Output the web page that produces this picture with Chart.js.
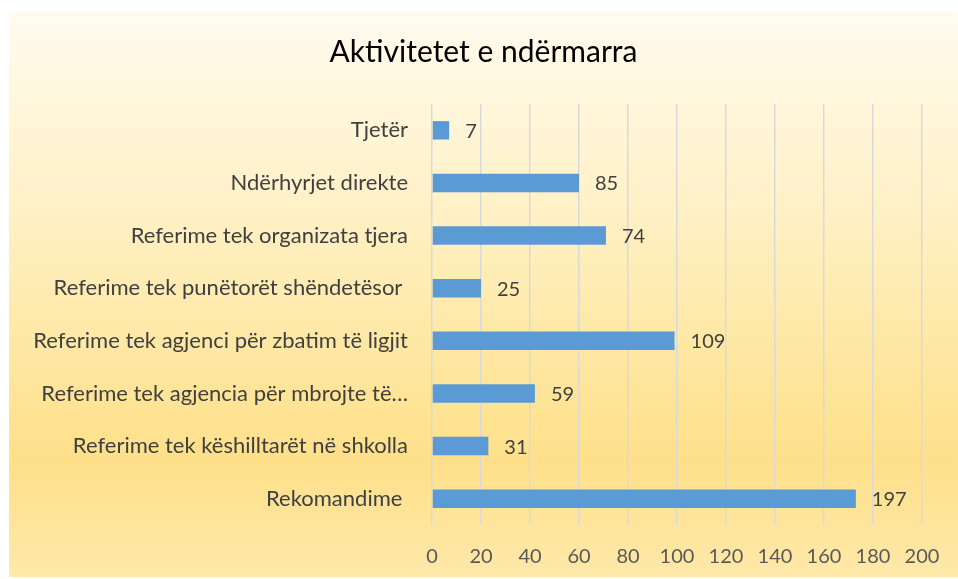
<!DOCTYPE html>
<html>
<head>
<meta charset="utf-8">
<script src="https://cdn.jsdelivr.net/npm/chart.js@4/dist/chart.umd.min.js"></script>
<style>
  html, body { margin: 0; padding: 0; background: #ffffff; }
  #wrap {
    position: absolute;
    left: 9px; top: 11px;
    width: 949px; height: 566px;
    background: linear-gradient(to bottom, #fffbef 0%, #fff1c6 35%, #fee392 72%, #fee08b 80%, #ffe9a9 100%);
  }
</style>
</head>
<body>
<div id="wrap"><canvas id="chart"></canvas></div>
<script>
  const categories = [
    'Tjetër',
    'Ndërhyrjet direkte',
    'Referime tek organizata tjera',
    'Referime tek punëtorët shëndetësor ',
    'Referime tek agjenci për zbatim të ligjit',
    'Referime tek agjencia për mbrojte të…',
    'Referime tek këshilltarët në shkolla',
    'Rekomandime '
  ];

  // bar lengths as drawn in the picture
  const barValues = [7, 60, 71, 20, 99, 42, 23, 173];

  // numbers printed next to the bars
  const labelValues = [7, 85, 74, 25, 109, 59, 31, 197];

  const tickValues = [0, 20, 40, 60, 80, 100, 120, 140, 160, 180, 200];

  const fontFamily = 'Lato, "Open Sans", sans-serif';

  const barLabels = {
    id: 'barLabels',
    afterDatasetsDraw(chart) {
      const ctx = chart.ctx;
      const meta = chart.getDatasetMeta(0);
      ctx.save();
      ctx.font = '20px ' + fontFamily;
      ctx.fillStyle = '#404040';
      ctx.textAlign = 'left';
      ctx.textBaseline = 'middle';
      meta.data.forEach((bar, i) => {
        ctx.fillText(String(labelValues[i]), bar.x + 16, bar.y + 1);
      });
      ctx.restore();
    }
  };

  const ctx = document.getElementById('chart');

  new Chart(ctx, {
    type: 'bar',
    data: {
      labels: categories,
      datasets: [{
        data: barValues,
        backgroundColor: '#5b9bd5',
        borderWidth: 0,
        categoryPercentage: 1,
        barPercentage: 0.35
      }]
    },
    plugins: [barLabels],
    options: {
      indexAxis: 'y',
      responsive: true,
      maintainAspectRatio: false,
      animation: false,
      layout: {
        padding: 0
      },
      plugins: {
        legend: { display: false },
        tooltip: { enabled: false },
        title: {
          display: true,
          text: 'Aktivitetet e ndërmarra',
          color: '#000000',
          font: { family: fontFamily, size: 30, weight: 'normal', lineHeight: 1.2 },
          padding: { top: 23, bottom: 34 }
        }
      },
      scales: {
        x: {
          min: 0,
          max: 200,
          afterBuildTicks(scale) {
            scale.ticks = tickValues.map(v => ({ value: v }));
          },
          afterFit(scale) {
            scale.height = 52;
            scale.paddingRight = 36;
          },
          border: { display: false },
          grid: {
            color: '#d9d9d9',
            lineWidth: 1.5,
            drawTicks: false
          },
          ticks: {
            color: '#595959',
            padding: 20,
            font: { family: fontFamily, size: 20 }
          }
        },
        y: {
          afterFit(scale) {
            scale.width = 423;
          },
          border: { display: false },
          grid: { display: false, drawTicks: false },
          ticks: {
            color: '#404040',
            padding: 24,
            font: { family: fontFamily, size: 22 }
          }
        }
      }
    }
  });
</script>
</body>
</html>
